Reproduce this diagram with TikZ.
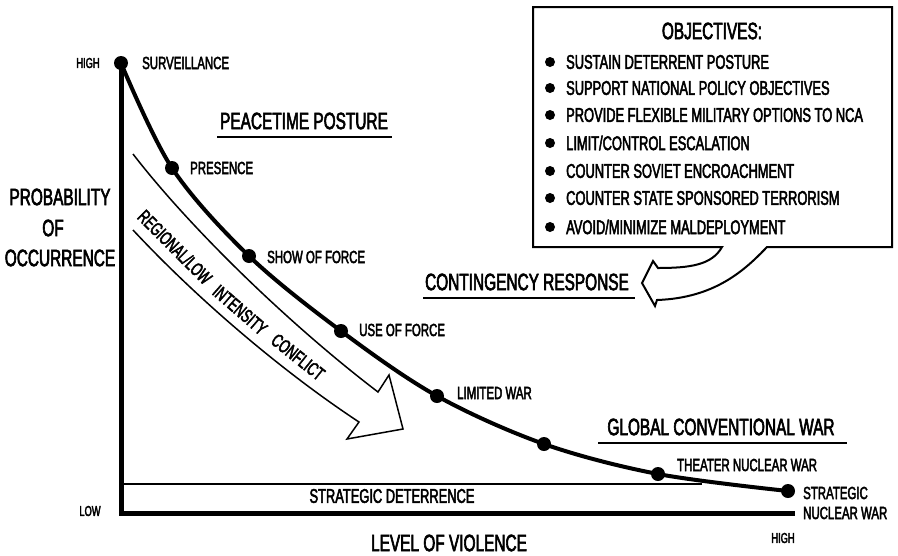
\documentclass[tikz,border=0pt]{standalone}
\usepackage{fontspec}
\setmainfont{Liberation Sans}[FakeStretch=0.65, FakeBold=2.5]
\tikzset{
  dot/.style={circle, fill=black, inner sep=0pt, minimum size=14pt},
  lab/.style={font=\fontsize{17.6}{20}\selectfont, inner sep=0pt, anchor=west},
  tiny/.style={font=\fontsize{14.3}{16}\selectfont, inner sep=0pt},
  big/.style={font=\fontsize{23.7}{26}\selectfont, inner sep=0pt},
  item/.style={font=\fontsize{19.8}{22}\selectfont, inner sep=0pt, anchor=west},
  band/.style={font=\fontsize{19}{21}\selectfont, inner sep=0pt},
  bul/.style={circle, fill=black, inner sep=0pt, minimum size=10pt},
  uline/.style={line width=1.8pt}
}
\begin{document}
\begin{tikzpicture}[x=1pt,y=-1pt]
\useasboundingbox (0,0) rectangle (898,555);
% axes
\coordinate (orig) at (121,513);
\coordinate (xend) at (795,513);
\coordinate (dl) at (121,484);
\coordinate (dr) at (702,484);
\draw[line width=1.5pt] (dl) -- (dr);
% curve points
\coordinate (c1) at (121,63);
\coordinate (c2) at (172,168);
\coordinate (c3) at (249,256);
\coordinate (c4) at (341,331);
\coordinate (c5) at (437,396);
\coordinate (c6) at (544,444);
\coordinate (c7) at (658,474);
\coordinate (c8) at (788,491);
\draw[line width=5pt, line join=miter] (c1) -- (orig) -- (xend);
\draw[line width=4pt] plot[smooth, tension=0.55] coordinates {(c1) (c2) (c3) (c4) (c5) (c6) (c7) (c8)};
\foreach \p in {c1,c2,c3,c4,c5,c6,c7,c8} \node[dot] (d\p) at (\p) {};
% curve labels
\node[lab] (surv) at (142,63) {SURVEILLANCE};
\node[lab] (pres) at (190,168) {PRESENCE};
\node[lab] (show) at (267,257) {SHOW OF FORCE};
\node[lab] (use) at (359,330) {USE OF FORCE};
\node[lab] (lim) at (457,393) {LIMITED WAR};
\node[lab] (theat) at (677,465) {THEATER NUCLEAR WAR};
\node[lab] (strat1) at (803,493) {STRATEGIC};
\node[lab] (strat2) at (803,513) {NUCLEAR WAR};
% axis labels
\node[tiny] (hi1) at (88,63) {HIGH};
\node[tiny] (lo1) at (90,511) {LOW};
\node[tiny] (hi2) at (783,538) {HIGH};
\node[big] (lov) at (449,543) {LEVEL OF VIOLENCE};
\node[big] (prob) at (60,197) {PROBABILITY};
\node[big] (of) at (53,228) {OF};
\node[big] (occ) at (60,258) {OCCURRENCE};
% region labels
\node[big] (peace) at (304,121) {PEACETIME POSTURE};
\draw[uline] (217,137) -- (392,137);
\node[big] (cont) at (527,282) {CONTINGENCY RESPONSE};
\draw[uline] (423,298) -- (635,298);
\node[big] (glob) at (721,427) {GLOBAL CONVENTIONAL WAR};
\draw[uline] (598,443) -- (847,443);
\node[item, anchor=center] (sd) at (392,496) {STRATEGIC DETERRENCE};
% hollow band arrow
\draw[line width=1.5pt, line join=miter]
  (133,154) .. controls (190,228) and (290,325) .. (378,392)
  -- (389,375) -- (403,429) -- (347,439) -- (359,422)
  .. controls (289,376) and (203,305) .. (133,230);
\node[band, rotate=-45] (w1) at (175,247) {REGIONAL/LOW};
\node[band, rotate=-41] (w2) at (240,310) {INTENSITY};
\node[band, rotate=-38.7] (w3) at (298,357) {CONFLICT};
% objectives callout
\draw[line width=2pt, line join=miter]
  (722,247) .. controls (712,265) and (690,268) .. (658,268)
  -- (653,261) -- (642,283) -- (655,306) -- (657,300)
  .. controls (715,298) and (745,270) .. (767,247)
  -- (892,247) -- (892,7) -- (533,7) -- (533,247) -- cycle;
\node[big] (obj) at (712,31) {OBJECTIVES:};
\node[bul] (b1) at (550,62) {};
\node[item] (o1) at (566,62) {SUSTAIN DETERRENT POSTURE};
\node[bul] (b2) at (550,88) {};
\node[item] (o2) at (566,88) {SUPPORT NATIONAL POLICY OBJECTIVES};
\node[bul] (b3) at (550,115) {};
\node[item] (o3) at (566,115) {PROVIDE FLEXIBLE MILITARY OPTIONS TO NCA};
\node[bul] (b4) at (550,143) {};
\node[item] (o4) at (566,143) {LIMIT/CONTROL ESCALATION};
\node[bul] (b5) at (550,171) {};
\node[item] (o5) at (566,171) {COUNTER SOVIET ENCROACHMENT};
\node[bul] (b6) at (550,198) {};
\node[item] (o6) at (566,198) {COUNTER STATE SPONSORED TERRORISM};
\node[bul] (b7) at (550,227) {};
\node[item] (o7) at (566,227) {AVOID/MINIMIZE MALDEPLOYMENT};
\end{tikzpicture}
\end{document}
